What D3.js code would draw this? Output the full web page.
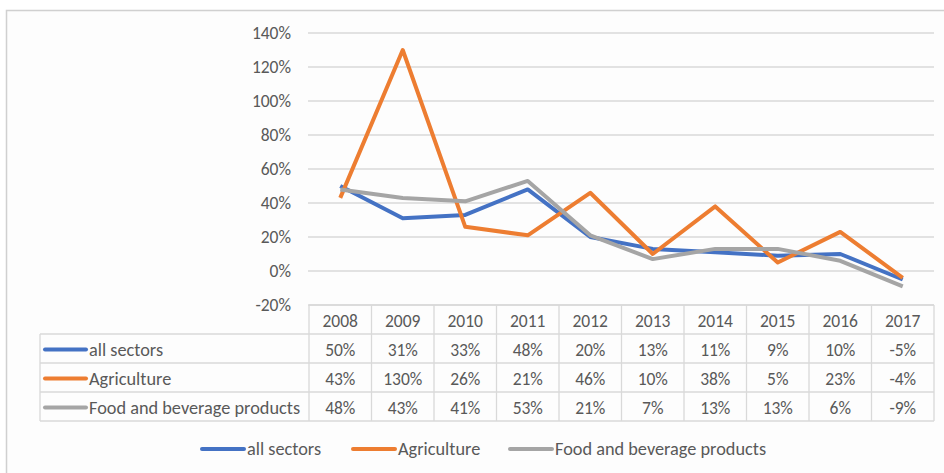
<!DOCTYPE html>
<html lang="en">
<head>
    <meta charset="UTF-8">
    <title>Growth by sector</title>
    <script src="https://d3js.org/d3.v7.min.js"></script>
    <style>
        body { margin: 0; background: #fff; }
        svg text { font-family: Calibri, Carlito, "Open Sans", sans-serif; fill: #595959; }
        .grid line { stroke: #d9d9d9; stroke-width: 1.3; }
        .tbl line { stroke: #d9d9d9; stroke-width: 1.3; }
        path.series { fill: none; stroke-width: 4; stroke-linejoin: round; }
    </style>
</head>
<body>
<script>
    const width  = 944;
    const height = 473;

    const years = ["2008","2009","2010","2011","2012","2013","2014","2015","2016","2017"];
    const seriesNames = ["all sectors", "Agriculture", "Food and beverage products"];
    const allSectors  = [0.50, 0.31, 0.33, 0.48, 0.20, 0.13, 0.11, 0.09, 0.10, -0.05];
    const agriculture = [0.43, 1.30, 0.26, 0.21, 0.46, 0.10, 0.38, 0.05, 0.23, -0.04];
    const foodBev     = [0.48, 0.43, 0.41, 0.53, 0.21, 0.07, 0.13, 0.13, 0.06, -0.09];
    const yTicks = [-0.2, 0, 0.2, 0.4, 0.6, 0.8, 1.0, 1.2, 1.4];
    const colors = ["#4472c4", "#ed7d31", "#a5a5a5"];

    const series = [allSectors, agriculture, foodBev];

    const plotLeft = 309, plotRight = 934;
    const tblTop = 305, rowH = 29, labelLeft = 40;
    const numSize = 17.5, labelSize = 18.3;

    const x = d3.scaleBand().domain(years).range([plotLeft, plotRight]).padding(0);
    const y = d3.scaleLinear().domain([-0.2, 1.4]).range([305, 33]);
    const fmt = d => d3.format(".0%")(d).replace("\u2212", "-");

    const svg = d3.select("body").append("svg").attr("width", width).attr("height", height);

    // outer chart border
    svg.append("rect")
        .attr("x", 6.5).attr("y", 10.5)
        .attr("width", width).attr("height", height)
        .attr("fill", "#fdfdfd").attr("stroke", "#d0d0d0").attr("stroke-width", 1.5);

    // gridlines + y labels
    const grid = svg.append("g").attr("class", "grid");
    grid.selectAll("line").data(yTicks).join("line")
        .attr("x1", plotLeft - 1).attr("x2", plotRight)
        .attr("y1", d => y(d)).attr("y2", d => y(d));
    svg.append("g").selectAll("text").data(yTicks).join("text")
        .attr("x", 291).attr("y", d => y(d)).attr("dy", "0.35em")
        .attr("text-anchor", "end").attr("font-size", numSize)
        .text(d => fmt(d));

    // lines
    const line = d3.line()
        .x((d, i) => x(years[i]) + x.bandwidth() / 2)
        .y(d => y(d));
    svg.selectAll("path.series").data(series).join("path")
        .attr("class", "series")
        .attr("stroke", (d, i) => colors[i])
        .attr("d", line);

    // data table
    const tbl = svg.append("g").attr("class", "tbl");
    const nRows = series.length;
    const tblBottom = tblTop + rowH * (nRows + 1);
    tbl.append("line").attr("x1", plotLeft).attr("x2", plotRight).attr("y1", tblTop).attr("y2", tblTop);
    d3.range(1, nRows + 2).forEach(r => {
        tbl.append("line")
            .attr("x1", labelLeft).attr("x2", plotRight)
            .attr("y1", tblTop + r * rowH).attr("y2", tblTop + r * rowH);
    });
    tbl.append("line").attr("x1", labelLeft).attr("x2", labelLeft)
        .attr("y1", tblTop + rowH).attr("y2", tblBottom);
    years.concat(["end"]).forEach((yr, i) => {
        const xx = i < years.length ? x(yr) : plotRight;
        tbl.append("line").attr("x1", xx).attr("x2", xx)
            .attr("y1", tblTop).attr("y2", tblBottom);
    });
    // header
    svg.append("g").selectAll("text").data(years).join("text")
        .attr("x", d => x(d) + x.bandwidth() / 2).attr("y", tblTop + rowH / 2 + 1)
        .attr("dy", "0.35em").attr("text-anchor", "middle").attr("font-size", numSize)
        .text(d => d);
    // rows
    series.forEach((vals, r) => {
        const cy = tblTop + (r + 1) * rowH + rowH / 2 + 1;
        const g = svg.append("g");
        g.append("line")
            .attr("x1", 45).attr("x2", 86).attr("y1", cy).attr("y2", cy)
            .attr("stroke", colors[r]).attr("stroke-width", 4).attr("stroke-linecap", "round");
        g.append("text").attr("x", 89).attr("y", cy).attr("dy", "0.35em")
            .attr("font-size", labelSize).text(seriesNames[r]);
        g.selectAll("text.v").data(vals).join("text")
            .attr("class", "v")
            .attr("x", (d, i) => x(years[i]) + x.bandwidth() / 2).attr("y", cy)
            .attr("dy", "0.35em").attr("text-anchor", "middle").attr("font-size", numSize)
            .text(d => fmt(d));
    });

    // legend
    const legX = [202, 353, 510];
    const legY = 449;
    const leg = svg.append("g");
    seriesNames.forEach((name, i) => {
        leg.append("line")
            .attr("x1", legX[i]).attr("x2", legX[i] + 42).attr("y1", legY).attr("y2", legY)
            .attr("stroke", colors[i]).attr("stroke-width", 4).attr("stroke-linecap", "round");
        leg.append("text").attr("x", legX[i] + 45).attr("y", legY).attr("dy", "0.35em")
            .attr("font-size", labelSize).text(name);
    });
</script>
</body>
</html>
